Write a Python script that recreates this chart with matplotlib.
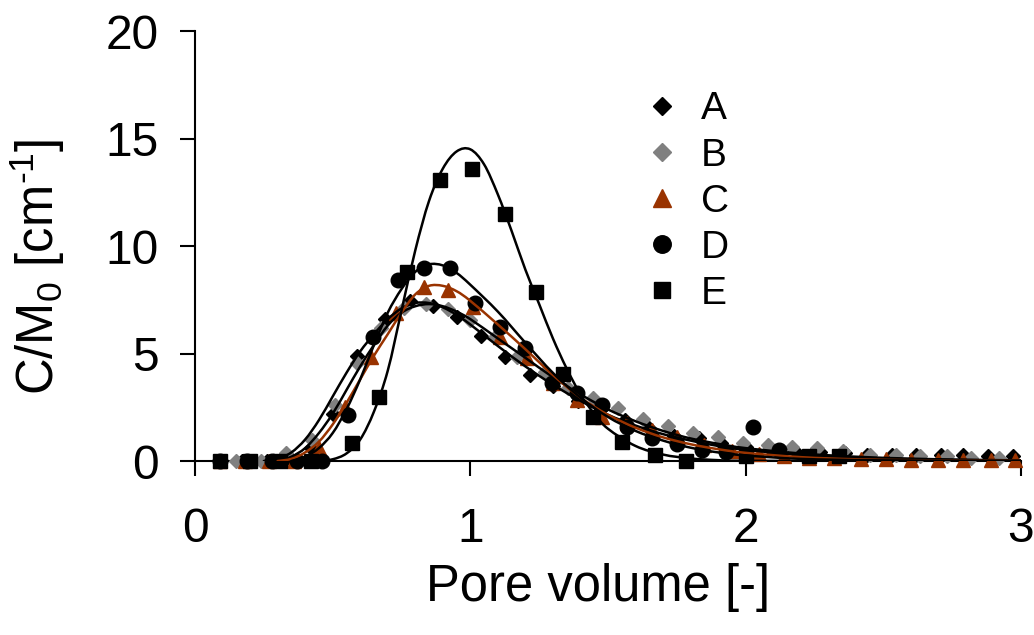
import matplotlib
matplotlib.use("Agg")
import matplotlib.pyplot as plt
import numpy as np
from matplotlib.path import Path
from matplotlib.patches import PathPatch

plt.rcParams['font.family'] = ['Liberation Sans', 'DejaVu Sans']
plt.rcParams['mathtext.fontset'] = 'custom'
plt.rcParams['mathtext.rm'] = 'Liberation Sans'
plt.rcParams['mathtext.it'] = 'Liberation Sans'

# ---- measured breakthrough data ----
a_x = [0.09, 0.17, 0.26, 0.34, 0.42, 0.50, 0.59, 0.69, 0.78, 0.864, 0.95, 1.04, 1.125, 1.215, 1.30,
       1.39, 1.475, 1.56, 1.65, 1.74, 1.83, 1.91, 2.0, 2.09, 2.18, 2.27, 2.36, 2.44, 2.53, 2.62,
       2.71, 2.79, 2.88, 2.97]
a_y = [0, 0, 0, 0.15, 0.6, 2.2, 4.9, 6.6, 7.45, 7.2, 6.7, 5.8, 4.85, 4.0, 3.5,
       2.8, 2.4, 1.9, 1.55, 1.15, 1.05, 0.85, 0.65, 0.55, 0.45, 0.4, 0.35, 0.3, 0.3, 0.28,
       0.28, 0.28, 0.25, 0.25]

b_x = [0.15, 0.24, 0.33, 0.425, 0.51, 0.59, 0.675, 0.76, 0.84, 0.92, 1.0, 1.09, 1.17, 1.27, 1.354,
       1.445, 1.535, 1.626, 1.717, 1.81, 1.90, 1.99, 2.08, 2.17, 2.26, 2.355, 2.45, 2.545, 2.635,
       2.73, 2.82, 2.92]
b_y = [0, 0, 0.37, 0.98, 2.6, 4.56, 6.19, 7.1, 7.3, 7.07, 6.56, 5.77, 4.84, 4.14, 3.4,
       2.93, 2.47, 1.96, 1.63, 1.3, 1.1, 0.84, 0.74, 0.65, 0.6, 0.47, 0.28, 0.28, 0.23,
       0.23, 0.14, 0.14]

c_x = [0.09, 0.18, 0.27, 0.36, 0.45, 0.545, 0.64, 0.73, 0.83, 0.92, 1.01, 1.107, 1.205, 1.30, 1.387,
       1.477, 1.57, 1.66, 1.75, 1.85, 1.95, 2.05, 2.14, 2.23, 2.32, 2.42, 2.51, 2.60, 2.70,
       2.79, 2.89, 2.98]
c_y = [0, 0, 0, 0, 0.6, 2.5, 4.84, 6.9, 8.1, 7.95, 7.16, 5.77, 4.8, 3.63, 2.84,
       2.05, 1.75, 1.44, 1.1, 0.74, 0.47, 0.33, 0.25, 0.15, 0.12, 0.1, 0.08, 0.06, 0.05,
       0.05, 0.03, 0.03]

d_x = [0.09, 0.19, 0.28, 0.37, 0.46, 0.555, 0.646, 0.737, 0.83, 0.925, 1.017, 1.107, 1.198, 1.296,
       1.387, 1.477, 1.57, 1.66, 1.75, 1.84, 1.93, 2.026, 2.12]
d_y = [0, 0, 0, 0, 0, 2.14, 5.77, 8.4, 8.97, 8.97, 7.35, 6.23, 5.26, 3.63,
       3.16, 2.6, 1.58, 1.07, 0.8, 0.5, 0.4, 1.58, 0.5]

e_x = [0.09, 0.2, 0.31, 0.42, 0.57, 0.67, 0.77, 0.89, 1.005, 1.125, 1.24, 1.336, 1.445, 1.55, 1.67,
       1.785, 2.0, 2.23, 2.34]
e_y = [0, 0, 0, 0, 0.84, 3.0, 8.8, 13.07, 13.6, 11.5, 7.85, 4.05, 2.05, 0.88, 0.28,
       0.0, 0.23, 0.23, 0.23]

# ---- fitted model curves ----
fa_x = [0.25, 0.3, 0.35, 0.4, 0.45, 0.5, 0.55, 0.6, 0.65, 0.7, 0.75, 0.8, 0.85, 0.9, 0.95, 1.0,
        1.1, 1.2, 1.3, 1.4, 1.5, 1.6, 1.7, 1.8, 1.9, 2.0, 2.2, 2.4, 2.6, 2.8, 3.0]
fa_y = [0, 0.1, 0.4, 1.0, 1.9, 3.0, 4.1, 5.1, 5.9, 6.6, 7.1, 7.35, 7.35, 7.15, 6.8, 6.35,
        5.35, 4.4, 3.55, 2.8, 2.15, 1.65, 1.25, 0.95, 0.7, 0.52, 0.28, 0.15, 0.08, 0.04, 0.02]

fb_x = [0.3, 0.35, 0.4, 0.45, 0.5, 0.55, 0.6, 0.65, 0.7, 0.75, 0.8, 0.85, 0.9, 0.95, 1.0,
        1.1, 1.2, 1.3, 1.4, 1.5, 1.6, 1.7, 1.8, 1.9, 2.0, 2.2, 2.4, 2.6, 2.8, 3.0]
fb_y = [0, 0.2, 0.6, 1.3, 2.2, 3.3, 4.4, 5.4, 6.3, 6.9, 7.2, 7.3, 7.2, 6.95, 6.6,
        5.7, 4.8, 3.9, 3.1, 2.4, 1.85, 1.4, 1.05, 0.8, 0.6, 0.35, 0.2, 0.11, 0.06, 0.03]

fc_x = [0.3, 0.35, 0.4, 0.45, 0.5, 0.55, 0.6, 0.65, 0.7, 0.75, 0.8, 0.85, 0.9, 0.95, 1.0,
        1.1, 1.2, 1.3, 1.4, 1.5, 1.6, 1.7, 1.8, 1.9, 2.0, 2.2, 2.4, 2.6, 2.8, 3.0]
fc_y = [0, 0.1, 0.4, 0.9, 1.7, 2.7, 3.8, 4.9, 5.9, 6.9, 7.75, 8.15, 8.15, 7.9, 7.45,
        6.35, 5.2, 4.0, 2.95, 2.15, 1.55, 1.1, 0.78, 0.55, 0.38, 0.18, 0.08, 0.04, 0.02, 0.01]

fd_x = [0.35, 0.4, 0.45, 0.5, 0.55, 0.6, 0.65, 0.7, 0.75, 0.8, 0.85, 0.9, 0.95, 1.0,
        1.1, 1.2, 1.3, 1.4, 1.5, 1.6, 1.7, 1.8, 1.9, 2.0, 2.2, 2.5, 3.0]
fd_y = [0, 0.2, 0.6, 1.3, 2.4, 3.8, 5.4, 6.9, 8.0, 8.8, 9.15, 9.1, 8.75, 8.2,
        6.95, 5.5, 4.1, 2.95, 2.05, 1.4, 0.95, 0.62, 0.4, 0.26, 0.1, 0.03, 0.0]

fe_x = [0.45, 0.5, 0.55, 0.6, 0.65, 0.7, 0.75, 0.8, 0.85, 0.9, 0.95, 1.0, 1.05, 1.1, 1.15,
        1.2, 1.25, 1.3, 1.35, 1.4, 1.45, 1.5, 1.6, 1.7, 1.8, 1.9, 2.0, 2.5, 3.0]
fe_y = [0, 0.08, 0.35, 1.0, 2.3, 4.2, 7.0, 9.8, 12.1, 13.6, 14.4, 14.5, 13.8, 12.4, 10.7,
        8.9, 7.3, 5.7, 4.3, 3.1, 2.2, 1.5, 0.7, 0.3, 0.12, 0.04, 0.01, 0.0, 0.0]

BROWN = '#993300'
GRAY = '#808080'


def smooth_curve(xs, ys):
    """Catmull-Rom curve through the given points, as a cubic Bezier path."""
    pts = np.column_stack([xs, ys]).astype(float)
    n = len(pts)
    verts = [pts[0]]
    codes = [Path.MOVETO]
    for i in range(n - 1):
        p0 = pts[i - 1] if i > 0 else pts[i]
        p1 = pts[i]
        p2 = pts[i + 1]
        p3 = pts[i + 2] if i + 2 < n else pts[i + 1]
        verts += [p1 + (p2 - p0) / 6.0, p2 - (p3 - p1) / 6.0, p2]
        codes += [Path.CURVE4] * 3
    return Path(np.array(verts), codes)


fig = plt.figure(figsize=(10.34, 6.35), dpi=100)
ax = fig.add_axes([0.1886, 0.274, 0.7988, 0.677])

marker_kw = dict(linestyle='none', clip_on=False, zorder=3)
ax.plot(a_x, a_y, marker='D', ms=7.5, color='black', label='A', **marker_kw)
ax.plot(b_x, b_y, marker='D', ms=7.5, color=GRAY, label='B', **marker_kw)
ax.plot(c_x, c_y, marker='^', ms=10.5, color=BROWN, label='C', **marker_kw)
ax.plot(d_x, d_y, marker='o', ms=10.5, color='black', label='D', **marker_kw)
ax.plot(e_x, e_y, marker='s', ms=9.5, color='black', label='E', **marker_kw)

for fx, fy, col in [(fa_x, fa_y, 'black'), (fb_x, fb_y, 'black'), (fc_x, fc_y, BROWN),
                    (fd_x, fd_y, 'black'), (fe_x, fe_y, 'black')]:
    ax.add_patch(PathPatch(smooth_curve(fx, fy), facecolor='none', edgecolor=col,
                           lw=1.8, zorder=4, capstyle='round', joinstyle='round'))

ax.set_xlim(0, 3)
ax.set_ylim(0, 20)
ax.set_xticks([0, 1, 2, 3])
ax.set_yticks([0, 5, 10, 15, 20])
for s in ['top', 'right']:
    ax.spines[s].set_visible(False)
for s in ['left', 'bottom']:
    ax.spines[s].set_linewidth(1.5)
ax.tick_params(axis='both', direction='out', length=11, width=1.5, labelsize=34.5)
ax.tick_params(axis='y', pad=15)
ax.tick_params(axis='x', pad=22)

ax.set_xlabel('Pore volume [-]', fontsize=36.5, labelpad=8)
ax.set_ylabel(r'C/M$_0$ [cm$^{\text{-1}}$]', fontsize=36.5, labelpad=28)
ax.xaxis.label.set_x(0.488)
ax.yaxis.label.set_y(0.452)

ax.legend(loc='upper left', bbox_to_anchor=(0.53, 0.905), frameon=False, fontsize=28,
          handlelength=0.5, handletextpad=0.75, labelspacing=0.26, borderpad=0,
          markerscale=1.2)

fig.savefig('out.png', dpi=100)
